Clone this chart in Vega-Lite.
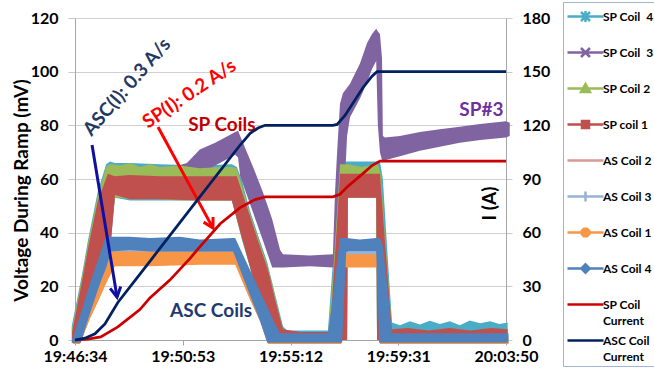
{
  "$schema": "https://vega.github.io/schema/vega-lite/v6.json",
  "width": 431,
  "height": 322,
  "autosize": {"type": "none"},
  "padding": {"left": 75, "top": 18, "right": 148, "bottom": 33},
  "background": "white",
  "datasets": {
    "volt": [
      {"series":"SP Coil  4","t":-8,"lo":-1,"hi":5},{"series":"SP Coil  4","t":17,"lo":0,"hi":24.5},{"series":"SP Coil  4","t":31,"lo":10,"hi":37},{"series":"SP Coil  4","t":55,"lo":26,"hi":55.5},{"series":"SP Coil  4","t":75,"lo":37,"hi":65.5},{"series":"SP Coil  4","t":84,"lo":38,"hi":66.5},{"series":"SP Coil  4","t":96,"lo":53,"hi":66},{"series":"SP Coil  4","t":132,"lo":52,"hi":66},{"series":"SP Coil  4","t":204,"lo":52,"hi":65.5},{"series":"SP Coil  4","t":300,"lo":52,"hi":65},{"series":"SP Coil  4","t":377,"lo":52,"hi":65.5},{"series":"SP Coil  4","t":389,"lo":45,"hi":64.5},{"series":"SP Coil  4","t":400,"lo":38,"hi":60},{"series":"SP Coil  4","t":421,"lo":27,"hi":48},{"series":"SP Coil  4","t":440,"lo":15,"hi":39},{"series":"SP Coil  4","t":462,"lo":4,"hi":29},{"series":"SP Coil  4","t":481,"lo":0,"hi":17},{"series":"SP Coil  4","t":500,"lo":0,"hi":5},{"series":"SP Coil  4","t":510,"lo":0,"hi":3.5},{"series":"SP Coil  4","t":608,"lo":0,"hi":3.5},{"series":"SP Coil  4","t":618,"lo":0,"hi":25},{"series":"SP Coil  4","t":630,"lo":0,"hi":50},{"series":"SP Coil  4","t":637,"lo":0,"hi":66.5},{"series":"SP Coil  4","t":654,"lo":0,"hi":66.5},{"series":"SP Coil  4","t":656,"lo":53,"hi":66.5},{"series":"SP Coil  4","t":724,"lo":53,"hi":66.5},{"series":"SP Coil  4","t":726,"lo":0,"hi":66.5},{"series":"SP Coil  4","t":733,"lo":0,"hi":66.5},{"series":"SP Coil  4","t":740,"lo":0,"hi":60},{"series":"SP Coil  4","t":752,"lo":0,"hi":30},{"series":"SP Coil  4","t":762,"lo":0,"hi":6.5},{"series":"SP Coil  4","t":781,"lo":0,"hi":5.5},{"series":"SP Coil  4","t":805,"lo":0,"hi":7},{"series":"SP Coil  4","t":829,"lo":0,"hi":5.8},{"series":"SP Coil  4","t":853,"lo":0,"hi":7.2},{"series":"SP Coil  4","t":877,"lo":0,"hi":6},{"series":"SP Coil  4","t":901,"lo":0,"hi":7},{"series":"SP Coil  4","t":925,"lo":0,"hi":5.5},{"series":"SP Coil  4","t":949,"lo":0,"hi":7.3},{"series":"SP Coil  4","t":974,"lo":0,"hi":6.2},{"series":"SP Coil  4","t":998,"lo":0,"hi":7},{"series":"SP Coil  4","t":1020,"lo":0,"hi":6},{"series":"SP Coil  4","t":1040,"lo":0,"hi":6.5},

      {"series":"SP Coil  3","t":-7,"lo":-1,"hi":3},{"series":"SP Coil  3","t":17,"lo":0,"hi":22},{"series":"SP Coil  3","t":31,"lo":10,"hi":34},{"series":"SP Coil  3","t":55,"lo":26,"hi":52},{"series":"SP Coil  3","t":79,"lo":37.5,"hi":62},{"series":"SP Coil  3","t":87,"lo":38,"hi":62},{"series":"SP Coil  3","t":96,"lo":53,"hi":62},{"series":"SP Coil  3","t":204,"lo":55,"hi":63},{"series":"SP Coil  3","t":269,"lo":58,"hi":66},{"series":"SP Coil  3","t":300,"lo":62,"hi":71},{"series":"SP Coil  3","t":337,"lo":65,"hi":73.5},{"series":"SP Coil  3","t":373,"lo":68,"hi":76.5},{"series":"SP Coil  3","t":385,"lo":69,"hi":77.5},{"series":"SP Coil  3","t":392,"lo":68,"hi":78},{"series":"SP Coil  3","t":397,"lo":61,"hi":76},{"series":"SP Coil  3","t":428,"lo":47.5,"hi":64.5},{"series":"SP Coil  3","t":452,"lo":37,"hi":55},{"series":"SP Coil  3","t":474,"lo":27,"hi":45},{"series":"SP Coil  3","t":493,"lo":27,"hi":33.5},{"series":"SP Coil  3","t":500,"lo":27,"hi":32},{"series":"SP Coil  3","t":565,"lo":27.5,"hi":31.5},{"series":"SP Coil  3","t":620,"lo":27,"hi":32},{"series":"SP Coil  3","t":625,"lo":27,"hi":55},{"series":"SP Coil  3","t":630,"lo":28,"hi":70},{"series":"SP Coil  3","t":637,"lo":29,"hi":88},{"series":"SP Coil  3","t":644,"lo":30,"hi":92},{"series":"SP Coil  3","t":649,"lo":60,"hi":93},{"series":"SP Coil  3","t":654,"lo":76,"hi":94},{"series":"SP Coil  3","t":661,"lo":83,"hi":95.5},{"series":"SP Coil  3","t":685,"lo":90,"hi":103},{"series":"SP Coil  3","t":702,"lo":96,"hi":110.7},{"series":"SP Coil  3","t":714,"lo":101,"hi":114},{"series":"SP Coil  3","t":724,"lo":104,"hi":116},{"series":"SP Coil  3","t":728,"lo":80,"hi":115},{"series":"SP Coil  3","t":733,"lo":70,"hi":114},{"series":"SP Coil  3","t":738,"lo":67,"hi":105},{"series":"SP Coil  3","t":740,"lo":67,"hi":76},{"series":"SP Coil  3","t":745,"lo":67,"hi":75.5},{"series":"SP Coil  3","t":781,"lo":68.5,"hi":76},{"series":"SP Coil  3","t":829,"lo":70.5,"hi":77.5},{"series":"SP Coil  3","t":877,"lo":72,"hi":78.5},{"series":"SP Coil  3","t":925,"lo":73.5,"hi":79.5},{"series":"SP Coil  3","t":974,"lo":74.5,"hi":80.5},{"series":"SP Coil  3","t":1036,"lo":75.5,"hi":81.5},{"series":"SP Coil  3","t":1045,"lo":76,"hi":81},

      {"series":"SP Coil 2","t":-7,"lo":-1,"hi":4},{"series":"SP Coil 2","t":17,"lo":0,"hi":23.5},{"series":"SP Coil 2","t":31,"lo":10,"hi":35.5},{"series":"SP Coil 2","t":55,"lo":26,"hi":54},{"series":"SP Coil 2","t":75,"lo":37,"hi":64.5},{"series":"SP Coil 2","t":84,"lo":38,"hi":65.5},{"series":"SP Coil 2","t":96,"lo":53,"hi":65.3},{"series":"SP Coil 2","t":108,"lo":53,"hi":65},{"series":"SP Coil 2","t":132,"lo":52.5,"hi":66},{"series":"SP Coil 2","t":156,"lo":52.5,"hi":64.5},{"series":"SP Coil 2","t":180,"lo":52.5,"hi":65.5},{"series":"SP Coil 2","t":204,"lo":52.5,"hi":64.5},{"series":"SP Coil 2","t":252,"lo":52,"hi":65},{"series":"SP Coil 2","t":300,"lo":52,"hi":64},{"series":"SP Coil 2","t":349,"lo":52,"hi":64.5},{"series":"SP Coil 2","t":377,"lo":52,"hi":64.5},{"series":"SP Coil 2","t":389,"lo":45,"hi":64},{"series":"SP Coil 2","t":421,"lo":27,"hi":47},{"series":"SP Coil 2","t":440,"lo":15,"hi":38},{"series":"SP Coil 2","t":462,"lo":4,"hi":28},{"series":"SP Coil 2","t":469,"lo":0,"hi":24},{"series":"SP Coil 2","t":481,"lo":0,"hi":16},{"series":"SP Coil 2","t":500,"lo":-0.5,"hi":4},{"series":"SP Coil 2","t":510,"lo":0,"hi":2},{"series":"SP Coil 2","t":608,"lo":0,"hi":2},{"series":"SP Coil 2","t":620,"lo":0,"hi":24},{"series":"SP Coil 2","t":630,"lo":0,"hi":48},{"series":"SP Coil 2","t":637,"lo":0,"hi":65.5},{"series":"SP Coil 2","t":654,"lo":0,"hi":65.5},{"series":"SP Coil 2","t":656,"lo":53,"hi":65.5},{"series":"SP Coil 2","t":690,"lo":53,"hi":64.5},{"series":"SP Coil 2","t":724,"lo":53,"hi":65.5},{"series":"SP Coil 2","t":726,"lo":0,"hi":65.5},{"series":"SP Coil 2","t":728,"lo":0,"hi":65.5},{"series":"SP Coil 2","t":735,"lo":0,"hi":62},{"series":"SP Coil 2","t":745,"lo":0,"hi":39},{"series":"SP Coil 2","t":757,"lo":0,"hi":15},{"series":"SP Coil 2","t":762,"lo":0,"hi":4},{"series":"SP Coil 2","t":770,"lo":0,"hi":2},{"series":"SP Coil 2","t":1036,"lo":0,"hi":2},

      {"series":"SP coil 1","t":-7,"lo":-1,"hi":3},{"series":"SP coil 1","t":17,"lo":0,"hi":22},{"series":"SP coil 1","t":31,"lo":10,"hi":34},{"series":"SP coil 1","t":55,"lo":26,"hi":52},{"series":"SP coil 1","t":79,"lo":37.5,"hi":62},{"series":"SP coil 1","t":87,"lo":38,"hi":61.5},{"series":"SP coil 1","t":96,"lo":54,"hi":61},{"series":"SP coil 1","t":132,"lo":52.5,"hi":61.5},{"series":"SP coil 1","t":204,"lo":52.5,"hi":61},{"series":"SP coil 1","t":300,"lo":52,"hi":61},{"series":"SP coil 1","t":377,"lo":52,"hi":61},{"series":"SP coil 1","t":389,"lo":45,"hi":61},{"series":"SP coil 1","t":421,"lo":27,"hi":46},{"series":"SP coil 1","t":440,"lo":15,"hi":37},{"series":"SP coil 1","t":462,"lo":4,"hi":27},{"series":"SP coil 1","t":469,"lo":0,"hi":23},{"series":"SP coil 1","t":481,"lo":0,"hi":15},{"series":"SP coil 1","t":500,"lo":-0.5,"hi":4},{"series":"SP coil 1","t":541,"lo":0,"hi":3},{"series":"SP coil 1","t":613,"lo":0,"hi":3},{"series":"SP coil 1","t":620,"lo":0,"hi":20},{"series":"SP coil 1","t":630,"lo":0,"hi":44},{"series":"SP coil 1","t":637,"lo":0,"hi":62},{"series":"SP coil 1","t":654,"lo":0,"hi":62},{"series":"SP coil 1","t":656,"lo":53,"hi":62},{"series":"SP coil 1","t":724,"lo":53,"hi":62},{"series":"SP coil 1","t":726,"lo":0,"hi":62},{"series":"SP coil 1","t":733,"lo":0,"hi":62},{"series":"SP coil 1","t":745,"lo":0,"hi":37},{"series":"SP coil 1","t":757,"lo":0,"hi":13},{"series":"SP coil 1","t":762,"lo":0,"hi":4},{"series":"SP coil 1","t":800,"lo":0,"hi":4.5},{"series":"SP coil 1","t":850,"lo":0,"hi":3.5},{"series":"SP coil 1","t":900,"lo":0,"hi":4.5},{"series":"SP coil 1","t":950,"lo":0,"hi":3.5},{"series":"SP coil 1","t":1000,"lo":0,"hi":4.5},{"series":"SP coil 1","t":1040,"lo":0,"hi":4},

      {"series":"AS Coil 2","t":-5,"lo":-1,"hi":0},{"series":"AS Coil 2","t":12,"lo":-1,"hi":6},{"series":"AS Coil 2","t":36,"lo":8,"hi":17},{"series":"AS Coil 2","t":60,"lo":16,"hi":26},{"series":"AS Coil 2","t":79,"lo":23,"hi":32},{"series":"AS Coil 2","t":96,"lo":28.5,"hi":32.5},{"series":"AS Coil 2","t":385,"lo":28.5,"hi":32.5},{"series":"AS Coil 2","t":421,"lo":15,"hi":23},{"series":"AS Coil 2","t":445,"lo":7,"hi":15},{"series":"AS Coil 2","t":464,"lo":-1,"hi":9},{"series":"AS Coil 2","t":493,"lo":-1,"hi":1},{"series":"AS Coil 2","t":608,"lo":-1,"hi":1},{"series":"AS Coil 2","t":618,"lo":-1,"hi":9},{"series":"AS Coil 2","t":637,"lo":-1,"hi":29},{"series":"AS Coil 2","t":640,"lo":-1,"hi":31},{"series":"AS Coil 2","t":649,"lo":28,"hi":31},{"series":"AS Coil 2","t":728,"lo":28,"hi":31},{"series":"AS Coil 2","t":733,"lo":-1,"hi":31},{"series":"AS Coil 2","t":745,"lo":-1,"hi":19},{"series":"AS Coil 2","t":757,"lo":-1,"hi":4},{"series":"AS Coil 2","t":762,"lo":-1,"hi":1},{"series":"AS Coil 2","t":1036,"lo":-1,"hi":1},

      {"series":"AS Coil 3","t":-5,"lo":-1,"hi":0},{"series":"AS Coil 3","t":12,"lo":-1,"hi":7},{"series":"AS Coil 3","t":36,"lo":9,"hi":18},{"series":"AS Coil 3","t":60,"lo":17,"hi":28},{"series":"AS Coil 3","t":79,"lo":24,"hi":34},{"series":"AS Coil 3","t":96,"lo":29.5,"hi":34},{"series":"AS Coil 3","t":385,"lo":29.5,"hi":34},{"series":"AS Coil 3","t":421,"lo":16,"hi":24},{"series":"AS Coil 3","t":445,"lo":8,"hi":16},{"series":"AS Coil 3","t":464,"lo":-1,"hi":9},{"series":"AS Coil 3","t":493,"lo":-1,"hi":1.5},{"series":"AS Coil 3","t":608,"lo":-1,"hi":1.5},{"series":"AS Coil 3","t":618,"lo":-1,"hi":10},{"series":"AS Coil 3","t":637,"lo":-1,"hi":31},{"series":"AS Coil 3","t":640,"lo":-1,"hi":33},{"series":"AS Coil 3","t":649,"lo":29,"hi":33},{"series":"AS Coil 3","t":728,"lo":29,"hi":33},{"series":"AS Coil 3","t":733,"lo":-1,"hi":33},{"series":"AS Coil 3","t":745,"lo":-1,"hi":20},{"series":"AS Coil 3","t":757,"lo":-1,"hi":4},{"series":"AS Coil 3","t":762,"lo":-1,"hi":1.5},{"series":"AS Coil 3","t":1036,"lo":-1,"hi":1.5},

      {"series":"AS Coil 1","t":-5,"lo":-1.5,"hi":0},{"series":"AS Coil 1","t":12,"lo":-1.5,"hi":7},{"series":"AS Coil 1","t":36,"lo":8,"hi":18},{"series":"AS Coil 1","t":60,"lo":16,"hi":27},{"series":"AS Coil 1","t":79,"lo":22.5,"hi":33},{"series":"AS Coil 1","t":96,"lo":27.5,"hi":33},{"series":"AS Coil 1","t":180,"lo":27.5,"hi":33},{"series":"AS Coil 1","t":300,"lo":28,"hi":33},{"series":"AS Coil 1","t":385,"lo":28,"hi":33},{"series":"AS Coil 1","t":421,"lo":15,"hi":24},{"series":"AS Coil 1","t":445,"lo":7,"hi":16},{"series":"AS Coil 1","t":464,"lo":-1.5,"hi":9.5},{"series":"AS Coil 1","t":493,"lo":-1.5,"hi":1},{"series":"AS Coil 1","t":608,"lo":-1.5,"hi":1},{"series":"AS Coil 1","t":618,"lo":-1.5,"hi":10},{"series":"AS Coil 1","t":637,"lo":-1.5,"hi":30},{"series":"AS Coil 1","t":640,"lo":-1.5,"hi":32},{"series":"AS Coil 1","t":649,"lo":27,"hi":32},{"series":"AS Coil 1","t":728,"lo":27,"hi":32},{"series":"AS Coil 1","t":733,"lo":-1.5,"hi":32},{"series":"AS Coil 1","t":745,"lo":-1.5,"hi":20},{"series":"AS Coil 1","t":757,"lo":-1.5,"hi":5},{"series":"AS Coil 1","t":762,"lo":-1.5,"hi":1},{"series":"AS Coil 1","t":1036,"lo":-1.5,"hi":1},{"series":"AS Coil 1","t":1042,"lo":-1.5,"hi":1.5},

      {"series":"AS Coil 4","t":-7,"lo":-1,"hi":0},{"series":"AS Coil 4","t":14,"lo":-1,"hi":10},{"series":"AS Coil 4","t":36,"lo":10,"hi":21},{"series":"AS Coil 4","t":60,"lo":21,"hi":32},{"series":"AS Coil 4","t":75,"lo":27,"hi":39},{"series":"AS Coil 4","t":87,"lo":33,"hi":38.5},{"series":"AS Coil 4","t":132,"lo":33.5,"hi":38.5},{"series":"AS Coil 4","t":180,"lo":33,"hi":38},{"series":"AS Coil 4","t":252,"lo":33,"hi":38.5},{"series":"AS Coil 4","t":300,"lo":33,"hi":37.5},{"series":"AS Coil 4","t":380,"lo":33,"hi":38},{"series":"AS Coil 4","t":385,"lo":31,"hi":38},{"series":"AS Coil 4","t":421,"lo":16.5,"hi":26},{"series":"AS Coil 4","t":445,"lo":7,"hi":18},{"series":"AS Coil 4","t":462,"lo":-1,"hi":12.4},{"series":"AS Coil 4","t":481,"lo":-1,"hi":6},{"series":"AS Coil 4","t":493,"lo":-1,"hi":2.5},{"series":"AS Coil 4","t":608,"lo":-1,"hi":2.5},{"series":"AS Coil 4","t":618,"lo":-1,"hi":14},{"series":"AS Coil 4","t":630,"lo":-1,"hi":29},{"series":"AS Coil 4","t":637,"lo":-1,"hi":38},{"series":"AS Coil 4","t":642,"lo":-1,"hi":38},{"series":"AS Coil 4","t":652,"lo":33,"hi":38},{"series":"AS Coil 4","t":685,"lo":33,"hi":37.5},{"series":"AS Coil 4","t":724,"lo":33,"hi":38},{"series":"AS Coil 4","t":731,"lo":-1,"hi":38},{"series":"AS Coil 4","t":733,"lo":-1,"hi":38},{"series":"AS Coil 4","t":740,"lo":-1,"hi":35},{"series":"AS Coil 4","t":752,"lo":-1,"hi":18},{"series":"AS Coil 4","t":762,"lo":-1,"hi":2.5},{"series":"AS Coil 4","t":1036,"lo":-1,"hi":2.5},{"series":"AS Coil 4","t":1042,"lo":-1,"hi":2.5}
    ],
    "cur": [
      {"series":"SP Coil Current","t":0,"A":0},{"series":"SP Coil Current","t":31,"A":0.5},{"series":"SP Coil Current","t":62,"A":1.7},{"series":"SP Coil Current","t":103,"A":7.3},{"series":"SP Coil Current","t":156,"A":17},{"series":"SP Coil Current","t":180,"A":23.5},{"series":"SP Coil Current","t":228,"A":33.5},{"series":"SP Coil Current","t":276,"A":45.5},{"series":"SP Coil Current","t":300,"A":52},{"series":"SP Coil Current","t":349,"A":65},{"series":"SP Coil Current","t":397,"A":74},{"series":"SP Coil Current","t":433,"A":78.5},{"series":"SP Coil Current","t":457,"A":80},{"series":"SP Coil Current","t":620,"A":80},{"series":"SP Coil Current","t":637,"A":81.5},{"series":"SP Coil Current","t":654,"A":85.5},{"series":"SP Coil Current","t":692,"A":93},{"series":"SP Coil Current","t":714,"A":97.5},{"series":"SP Coil Current","t":733,"A":100},{"series":"SP Coil Current","t":1036,"A":100},
      {"series":"ASC Coil Current","t":0,"A":0},{"series":"ASC Coil Current","t":24,"A":1},{"series":"ASC Coil Current","t":48,"A":3.5},{"series":"ASC Coil Current","t":72,"A":9},{"series":"ASC Coil Current","t":103,"A":21},{"series":"ASC Coil Current","t":180,"A":44},{"series":"ASC Coil Current","t":300,"A":80},{"series":"ASC Coil Current","t":397,"A":109},{"series":"ASC Coil Current","t":421,"A":115.5},{"series":"ASC Coil Current","t":440,"A":118.5},{"series":"ASC Coil Current","t":457,"A":120},{"series":"ASC Coil Current","t":620,"A":120},{"series":"ASC Coil Current","t":630,"A":120.5},{"series":"ASC Coil Current","t":649,"A":125.5},{"series":"ASC Coil Current","t":692,"A":141},{"series":"ASC Coil Current","t":714,"A":147.5},{"series":"ASC Coil Current","t":726,"A":150},{"series":"ASC Coil Current","t":1036,"A":150}
    ],
    "notes": [
      {"label":"ASC(I): 0.3 A/s","t":125,"v":94.3},
      {"label":"SP(I):  0.2 A/s","t":275,"v":91.7},
      {"label":"SP Coils","t":353,"v":80.1},
      {"label":"ASC Coils","t":327,"v":10.8},
      {"label":"SP#3","t":977,"v":85.7}
    ],
    "arrows": [
      {"name":"asc","t":41,"v":72.7,"t2":101,"v2":16},
      {"name":"sp","t":199.5,"v":79.4,"t2":331.7,"v2":41.7}
    ]
  },
  "layer": [
    {
      "layer": [
        {
          "data": {"name": "volt"},
          "transform": [{"filter": "datum.series === 'SP Coil  4'"}],
          "mark": {"type": "area"},
          "encoding": {
            "x": {"field": "t", "type": "quantitative", "title": null, "scale": {"domain": [0, 1036], "nice": false, "zero": false},
              "axis": {"values": [0, 259, 518, 777, 1036], "labelExpr": "datum.value == 0 ? '19:46:34' : datum.value == 259 ? '19:50:53' : datum.value == 518 ? '19:55:12' : datum.value == 777 ? '19:59:31' : '20:03:50'", "title": null, "grid": false, "tickSize": 5, "labelPadding": 3, "labelFontSize": 16, "labelFontWeight": "bold", "labelColor": "#000000", "domainColor": "#A6A6A6", "tickColor": "#A6A6A6", "labelFlush": false, "labelOverlap": false}},
            "y": {"field": "hi", "type": "quantitative", "title": "Voltage During Ramp (mV)", "scale": {"domain": [0, 120], "nice": false},
              "axis": {"values": [0, 20, 40, 60, 80, 100, 120], "title": "Voltage During Ramp (mV)", "titleFontSize": 19, "titleFontWeight": "bold", "titleColor": "#000000", "titleX": -54, "titleY": 172, "titleBaseline": "middle", "titleAngle": 270, "grid": true, "gridColor": "#D0D0D0", "tickSize": 7, "labelPadding": 10, "labelFontSize": 16, "labelFontWeight": "bold", "labelColor": "#000000", "domainColor": "#A6A6A6", "tickColor": "#C8C8C8"}},
            "y2": {"field": "lo"},
            "color": {"field": "series", "type": "nominal",
              "scale": {"domain": ["SP Coil  4", "SP Coil  3", "SP Coil 2", "SP coil 1", "AS Coil 2", "AS Coil 3", "AS Coil 1", "AS Coil 4", "SP Coil Current", "ASC Coil Current"],
                        "range": ["#4BACC6", "#8064A2", "#9BBB59", "#C0504D", "#D99795", "#95B3D7", "#F79646", "#4F81BD", "#CC0000", "#002060"]},
              "legend": {
                "orient": "none", "legendX": 488, "legendY": -16, "direction": "vertical", "columns": 1, "title": null,
                "symbolSize": 400, "symbolStrokeWidth": 2.5, "symbolType": "M-1,0H2.6",
                "labelFont": "Lato", "labelFontSize": 12, "labelFontWeight": "bold", "labelColor": "#000000", "labelOffset": 14, "labelLimit": 200,
                "padding": 3, "rowPadding": 2, "gridAlign": "all",
                "strokeColor": "#9FB6D3", "fillColor": "#FFFFFF",
                "labelExpr": "datum.label == 'SP Coil Current' ? ['SP Coil', 'Current'] : datum.label == 'ASC Coil Current' ? ['ASC Coil', 'Current'] : replace(datum.label, '  ', '\u00a0\u00a0')",
                "encode": {
                  "symbols": {"update": {
                    "shape": {"signal": "datum.value === 'SP Coil  4' ? 'M-1,0H2.6M0.35,-0.45L1.25,0.45M0.35,0.45L1.25,-0.45M0.8,-0.55V0.55' : datum.value === 'SP Coil  3' ? 'M-1,0H2.6M0.35,-0.45L1.25,0.45M0.35,0.45L1.25,-0.45' : datum.value === 'SP Coil 2' ? 'M-1,0H2.6M0.35,0.35L0.8,-0.45L1.25,0.35Z' : datum.value === 'SP coil 1' ? 'M-1,0H2.6M0.45,-0.35H1.15V0.35H0.45Z' : datum.value === 'AS Coil 3' ? 'M-1,0H2.6M0.8,-0.5V0.5' : datum.value === 'AS Coil 1' ? 'M-1,0H2.6M0.42,-0.16L0.64,-0.38L0.96,-0.38L1.18,-0.16L1.18,0.16L0.96,0.38L0.64,0.38L0.42,0.16Z' : datum.value === 'AS Coil 4' ? 'M-1,0H2.6M0.8,-0.42L1.22,0L0.8,0.42L0.38,0Z' : 'M-1,0H2.6'"},
                    "fill": {"scale": "color", "field": "value"},
                    "stroke": {"scale": "color", "field": "value"},
                    "strokeWidth": {"value": 2.5},
                    "opacity": {"value": 1},
                    "fillOpacity": {"value": 1},
                    "strokeOpacity": {"value": 1}
                  }},
                  "labels": {"update": {"lineHeight": {"value": 16}}}
                }
              }}
          }
        },
        {"data": {"name": "volt"}, "transform": [{"filter": "datum.series === 'SP Coil  3'"}], "mark": {"type": "area"},
          "encoding": {"x": {"field": "t", "type": "quantitative", "title": null}, "y": {"field": "hi", "type": "quantitative", "title": "Voltage During Ramp (mV)"}, "y2": {"field": "lo"}, "color": {"field": "series", "type": "nominal"}}},
        {"data": {"name": "volt"}, "transform": [{"filter": "datum.series === 'SP Coil 2'"}], "mark": {"type": "area"},
          "encoding": {"x": {"field": "t", "type": "quantitative", "title": null}, "y": {"field": "hi", "type": "quantitative", "title": "Voltage During Ramp (mV)"}, "y2": {"field": "lo"}, "color": {"field": "series", "type": "nominal"}}},
        {"data": {"name": "volt"}, "transform": [{"filter": "datum.series === 'SP coil 1'"}], "mark": {"type": "area"},
          "encoding": {"x": {"field": "t", "type": "quantitative", "title": null}, "y": {"field": "hi", "type": "quantitative", "title": "Voltage During Ramp (mV)"}, "y2": {"field": "lo"}, "color": {"field": "series", "type": "nominal"}}},
        {"data": {"name": "volt"}, "transform": [{"filter": "datum.series === 'AS Coil 2'"}], "mark": {"type": "area"},
          "encoding": {"x": {"field": "t", "type": "quantitative", "title": null}, "y": {"field": "hi", "type": "quantitative", "title": "Voltage During Ramp (mV)"}, "y2": {"field": "lo"}, "color": {"field": "series", "type": "nominal"}}},
        {"data": {"name": "volt"}, "transform": [{"filter": "datum.series === 'AS Coil 3'"}], "mark": {"type": "area"},
          "encoding": {"x": {"field": "t", "type": "quantitative", "title": null}, "y": {"field": "hi", "type": "quantitative", "title": "Voltage During Ramp (mV)"}, "y2": {"field": "lo"}, "color": {"field": "series", "type": "nominal"}}},
        {"data": {"name": "volt"}, "transform": [{"filter": "datum.series === 'AS Coil 1'"}], "mark": {"type": "area"},
          "encoding": {"x": {"field": "t", "type": "quantitative", "title": null}, "y": {"field": "hi", "type": "quantitative", "title": "Voltage During Ramp (mV)"}, "y2": {"field": "lo"}, "color": {"field": "series", "type": "nominal"}}},
        {"data": {"name": "volt"}, "transform": [{"filter": "datum.series === 'AS Coil 4'"}], "mark": {"type": "area"},
          "encoding": {"x": {"field": "t", "type": "quantitative", "title": null}, "y": {"field": "hi", "type": "quantitative", "title": "Voltage During Ramp (mV)"}, "y2": {"field": "lo"}, "color": {"field": "series", "type": "nominal"}}},
        {"data": {"name": "arrows"}, "transform": [{"filter": "datum.name === 'asc'"}], "mark": {"type": "rule", "color": "#1010A0", "strokeWidth": 3},
          "encoding": {"x": {"field": "t", "type": "quantitative", "title": null}, "y": {"field": "v", "type": "quantitative", "title": "Voltage During Ramp (mV)"}, "x2": {"field": "t2"}, "y2": {"field": "v2"}}},
        {"data": {"name": "arrows"}, "transform": [{"filter": "datum.name === 'asc'"}], "mark": {"type": "point", "shape": "M-0.55,-1L0,0L0.55,-1", "size": 380, "filled": false, "color": "#1010A0", "strokeWidth": 3, "angle": 350.7, "opacity": 1},
          "encoding": {"x": {"field": "t2", "type": "quantitative", "title": null}, "y": {"field": "v2", "type": "quantitative", "title": "Voltage During Ramp (mV)"}}},
        {"data": {"name": "arrows"}, "transform": [{"filter": "datum.name === 'sp'"}], "mark": {"type": "rule", "color": "#FF0000", "strokeWidth": 3},
          "encoding": {"x": {"field": "t", "type": "quantitative", "title": null}, "y": {"field": "v", "type": "quantitative", "title": "Voltage During Ramp (mV)"}, "x2": {"field": "t2"}, "y2": {"field": "v2"}}},
        {"data": {"name": "arrows"}, "transform": [{"filter": "datum.name === 'sp'"}], "mark": {"type": "point", "shape": "M-0.55,-1L0,0L0.55,-1", "size": 380, "filled": false, "color": "#FF0000", "strokeWidth": 3, "angle": 331.4, "opacity": 1},
          "encoding": {"x": {"field": "t2", "type": "quantitative", "title": null}, "y": {"field": "v2", "type": "quantitative", "title": "Voltage During Ramp (mV)"}}},
        {"data": {"name": "notes"}, "transform": [{"filter": "datum.label === 'ASC(I): 0.3 A/s'"}], "mark": {"type": "text", "font": "Lato", "fontWeight": "bold", "fontSize": 19, "color": "#1F3864", "angle": 311, "align": "center", "baseline": "middle"},
          "encoding": {"x": {"field": "t", "type": "quantitative", "title": null}, "y": {"field": "v", "type": "quantitative", "title": "Voltage During Ramp (mV)"}, "text": {"field": "label"}}},
        {"data": {"name": "notes"}, "transform": [{"filter": "datum.label === 'SP(I):  0.2 A/s'"}], "mark": {"type": "text", "font": "Lato", "fontWeight": "bold", "fontSize": 19, "color": "#FF0000", "angle": 326, "align": "center", "baseline": "middle"},
          "encoding": {"x": {"field": "t", "type": "quantitative", "title": null}, "y": {"field": "v", "type": "quantitative", "title": "Voltage During Ramp (mV)"}, "text": {"field": "label"}}},
        {"data": {"name": "notes"}, "transform": [{"filter": "datum.label === 'SP Coils'"}], "mark": {"type": "text", "font": "Lato", "fontWeight": "bold", "fontSize": 19, "color": "#C00000", "align": "center", "baseline": "middle"},
          "encoding": {"x": {"field": "t", "type": "quantitative", "title": null}, "y": {"field": "v", "type": "quantitative", "title": "Voltage During Ramp (mV)"}, "text": {"field": "label"}}},
        {"data": {"name": "notes"}, "transform": [{"filter": "datum.label === 'ASC Coils'"}], "mark": {"type": "text", "font": "Lato", "fontWeight": "bold", "fontSize": 19, "color": "#1F3A70", "align": "center", "baseline": "middle"},
          "encoding": {"x": {"field": "t", "type": "quantitative", "title": null}, "y": {"field": "v", "type": "quantitative", "title": "Voltage During Ramp (mV)"}, "text": {"field": "label"}}},
        {"data": {"name": "notes"}, "transform": [{"filter": "datum.label === 'SP#3'"}], "mark": {"type": "text", "font": "Lato", "fontWeight": "bold", "fontSize": 19, "color": "#7030A0", "align": "center", "baseline": "middle"},
          "encoding": {"x": {"field": "t", "type": "quantitative", "title": null}, "y": {"field": "v", "type": "quantitative", "title": "Voltage During Ramp (mV)"}, "text": {"field": "label"}}}
      ]
    },
    {
      "data": {"name": "cur"},
      "mark": {"type": "line", "strokeWidth": 2.75},
      "encoding": {
        "x": {"field": "t", "type": "quantitative", "title": null},
        "y": {"field": "A", "type": "quantitative", "title": "I (A)", "scale": {"domain": [0, 180], "nice": false},
          "axis": {"orient": "right", "values": [0, 30, 60, 90, 120, 150, 180], "title": "I (A)", "titleFontSize": 19, "titleFontWeight": "bold", "titleColor": "#000000", "titleX": -17, "titleY": 185, "titleAngle": 270, "titleBaseline": "middle", "grid": false, "tickSize": 6, "labelPadding": 10, "labelFontSize": 16, "labelFontWeight": "bold", "labelColor": "#000000", "domainColor": "#A6A6A6", "tickColor": "#C8C8C8"}},
        "color": {"field": "series", "type": "nominal"}
      }
    }
  ],
  "resolve": {"scale": {"y": "independent"}},
  "config": {
    "font": "Lato",
    "view": {"stroke": null},
    "axis": {"labelFont": "Lato", "titleFont": "Lato"}
  }
}
